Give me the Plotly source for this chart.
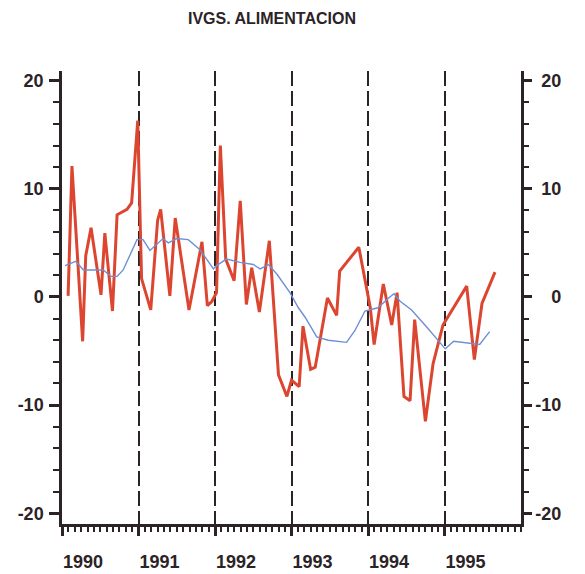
import plotly.graph_objects as go

# IVGS alimentación, monthly rate (red) - x in decimal years
ivgs_x = [1990.08, 1990.13, 1990.27, 1990.31, 1990.38, 1990.51, 1990.56, 1990.66, 1990.72,
          1990.85, 1990.91, 1990.99,
          1991.04, 1991.16, 1991.25, 1991.29, 1991.41, 1991.48, 1991.66, 1991.83, 1991.90,
          1991.96, 1992.02, 1992.07, 1992.14, 1992.25, 1992.33, 1992.41, 1992.48, 1992.58,
          1992.71, 1992.83, 1992.94, 1993.00, 1993.10, 1993.15, 1993.25, 1993.31, 1993.47,
          1993.59, 1993.63, 1993.88, 1994.03, 1994.08, 1994.20, 1994.31, 1994.38, 1994.47,
          1994.55, 1994.61, 1994.75, 1994.85, 1994.98, 1995.29, 1995.39, 1995.49, 1995.66]
ivgs_y = [0.1, 12.1, -4.1, 3.8, 6.4, 0.2, 5.9, -1.3, 7.6,
          8.1, 8.7, 16.3,
          1.7, -1.2, 7.1, 8.1, 0.1, 7.3, -1.2, 5.1, -0.8,
          -0.4, 0.4, 14.0, 3.5, 1.5, 8.9, -0.7, 2.7, -1.4,
          5.2, -7.2, -9.2, -7.7, -8.3, -2.7, -6.7, -6.5, -0.1,
          -1.7, 2.4, 4.6, -1.0, -4.4, 1.2, -2.6, 0.4, -9.2,
          -9.6, -2.1, -11.5, -6.2, -2.6, 1.0, -5.8, -0.6, 2.3]

# Trend (blue)
trend_x = [1990.04, 1990.18, 1990.28, 1990.54, 1990.64, 1990.72, 1990.80, 1990.98,
           1991.06, 1991.15, 1991.32, 1991.39, 1991.50, 1991.65, 1991.80, 1991.98,
           1992.02, 1992.15, 1992.33, 1992.50, 1992.59, 1992.70, 1992.81, 1992.98,
           1993.09, 1993.18, 1993.33, 1993.48, 1993.72, 1993.83, 1993.96, 1994.13,
           1994.27, 1994.34, 1994.42, 1994.57, 1994.77, 1994.94, 1995.01, 1995.12,
           1995.46, 1995.59]
trend_y = [2.9, 3.3, 2.5, 2.5, 1.9, 1.9, 2.5, 5.3,
           5.3, 4.3, 5.4, 5.0, 5.4, 5.3, 4.4, 2.6,
           2.9, 3.5, 3.2, 3.0, 2.6, 3.0, 2.1, 0.4,
           -1.0, -1.9, -3.7, -4.0, -4.2, -3.1, -1.3, -1.0,
           -0.1, 0.3, -0.4, -1.2, -2.8, -4.2, -4.8, -4.1,
           -4.4, -3.2]

year_ticks = [1990, 1991, 1992, 1993, 1994, 1995]
year_labels = ["1990", "1991", "1992", "1993", "1994", "1995"]
y_ticks = [-20, -10, 0, 10, 20]
y_labels_left = ["-20", "-10", "0", "10", "20"]
y_labels_right = ["-20", "-10", "\u2004\u20070", "\u200410", "\u200420"]

INK = "#2b2326"
FONT = dict(family="Liberation Sans, Arial, sans-serif", size=18, color=INK, weight="bold")

fig = go.Figure()
fig.add_trace(go.Scatter(x=ivgs_x, y=ivgs_y, mode="lines",
                         line=dict(color="#dc4630", width=3), yaxis="y", showlegend=False))
fig.add_trace(go.Scatter(x=trend_x, y=trend_y, mode="lines",
                         line=dict(color="#6d8fd4", width=1.4), yaxis="y2", showlegend=False))

yax_common = dict(range=[-21, 20.9], tickmode="array", tickvals=y_ticks,
                  ticks="outside", tickwidth=2.5, tickcolor=INK,
                  showline=True, linewidth=2.5, linecolor=INK, automargin=False,
                  showgrid=False, zeroline=False, tickfont=FONT)

fig.update_layout(
    width=577, height=566,
    margin=dict(l=54, r=64, t=63, b=50),
    paper_bgcolor="white", plot_bgcolor="white",
    title=dict(text="IVGS. ALIMENTACION", x=0.4575, xref="container", xanchor="center",
               y=0.982, yref="container", yanchor="middle",
               font=dict(family="Liberation Sans, Arial, sans-serif", size=16,
                         color=INK, weight="bold")),
    xaxis=dict(range=[1990, 1996], tickmode="array", tickvals=year_ticks, ticktext=year_labels,
               ticks="outside", ticklen=9, tickwidth=2.5, tickcolor=INK,
               showline=True, linewidth=2.5, linecolor=INK, automargin=False,
               showgrid=True, gridcolor=INK, gridwidth=2, griddash="15px,5px",
               zeroline=False, tickfont=FONT, ticklabelshift=21, ticklabelstandoff=11,
               minor=dict(dtick=1 / 12, tick0=1990, ticks="outside", ticklen=5,
                          tickwidth=1.5, tickcolor=INK, showgrid=False)),
    yaxis=dict(**yax_common, ticktext=y_labels_left, ticklen=10, ticklabelstandoff=2,
               minor=dict(dtick=2, tick0=0, ticks="outside", ticklen=6,
                          tickwidth=2, tickcolor=INK, showgrid=False)),
    yaxis2=dict(**yax_common, ticktext=y_labels_right, overlaying="y", side="right",
                anchor="x", ticklen=8, ticklabelstandoff=0,
                minor=dict(dtick=2, tick0=0, ticks="outside", ticklen=5,
                           tickwidth=2, tickcolor=INK, showgrid=False)),
)

fig.write_html("out.html")
